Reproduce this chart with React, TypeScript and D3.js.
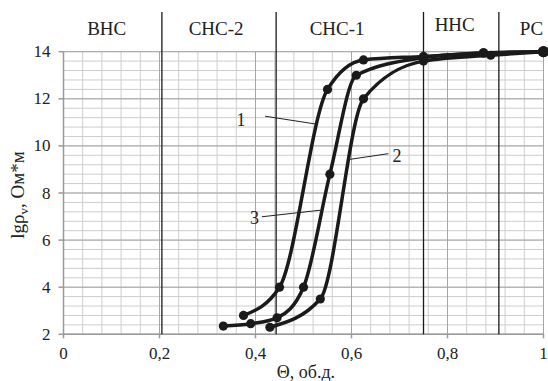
import * as d3 from "d3";

// curve 1
const theta1 = [0.375, 0.45, 0.55, 0.625, 0.75, 0.875, 1];
const rho1 = [2.8, 4.0, 12.4, 13.65, 13.8, 13.95, 14];
// curve 2
const theta2 = [0.43, 0.535, 0.625, 0.75, 0.89, 1];
const rho2 = [2.3, 3.5, 12.0, 13.6, 13.85, 14];
// curve 3
const theta3 = [0.333, 0.39, 0.445, 0.5, 0.555, 0.61, 0.75, 0.875, 1];
const rho3 = [2.35, 2.45, 2.7, 4.0, 8.8, 13.0, 13.75, 13.95, 14];

const xTicks = [0, 0.2, 0.4, 0.6, 0.8, 1];
const yTicks = [2, 4, 6, 8, 10, 12, 14];

const zoneBounds = [0.205, 0.443, 0.75, 0.907];
const zoneNames = ["ВНС", "СНС-2", "СНС-1", "ННС", "РС"];
const zoneCenters = [0.09, 0.318, 0.57, 0.815, 0.975];

// curve labels: [label, textX, textY, lineX1, lineY1, lineX2, lineY2]
const curveLabels: [string, number, number, number, number, number, number][] = [
  ["1", 0.37, 11.1, 0.42, 11.26, 0.525, 10.93],
  ["2", 0.695, 9.55, 0.677, 9.67, 0.594, 9.42],
  ["3", 0.398, 6.95, 0.413, 6.99, 0.535, 7.27],
];

const W = 548;
const H = 381;
const margin = { top: 51.7, right: 4.5, bottom: 46.7, left: 63.5 };

export default function App() {
  const x = d3.scaleLinear([0, 1], [margin.left, W - margin.right]);
  const y = d3.scaleLinear([2, 14], [H - margin.bottom, margin.top]);

  const minorX = d3.range(0, 1.0001, 0.04);
  const minorY = d3.range(2, 14.0001, 0.4);

  const line = d3
    .line<[number, number]>()
    .curve(d3.curveMonotoneX)
    .x((d) => x(d[0]))
    .y((d) => y(d[1]));

  const series = [
    d3.zip(theta1, rho1) as [number, number][],
    d3.zip(theta2, rho2) as [number, number][],
    d3.zip(theta3, rho3) as [number, number][],
  ];

  const font = "Liberation Serif, Tinos, Times New Roman, DejaVu Serif, serif";

  return (
    <svg
      width={W}
      height={H}
      style={{ position: "absolute", left: 0, top: 0, background: "#fff", fontFamily: font }}
    >
      <rect width={W} height={H} fill="#fff" />
      {/* minor grid */}
      {minorX.map((v, i) => (
        <line key={"mx" + i} x1={x(v)} x2={x(v)} y1={y(2)} y2={y(14)} stroke="#cdcdcd" strokeWidth={1} />
      ))}
      {minorY.map((v, i) => (
        <line key={"my" + i} x1={x(0)} x2={x(1)} y1={y(v)} y2={y(v)} stroke="#cdcdcd" strokeWidth={1} />
      ))}
      {/* major grid */}
      {xTicks.map((v) => (
        <line key={"Mx" + v} x1={x(v)} x2={x(v)} y1={y(2)} y2={y(14)} stroke="#a6a6a6" strokeWidth={1} />
      ))}
      {yTicks.map((v) => (
        <line key={"My" + v} x1={x(0)} x2={x(1)} y1={y(v)} y2={y(v)} stroke="#a6a6a6" strokeWidth={1} />
      ))}
      {/* axes */}
      <line x1={x(0)} x2={x(0)} y1={y(2)} y2={y(14)} stroke="#999" strokeWidth={1.5} />
      <line x1={x(0)} x2={x(1)} y1={y(2)} y2={y(2)} stroke="#999" strokeWidth={1.5} />
      {yTicks.map((v) => (
        <g key={"yt" + v}>
          <line x1={x(0) - 5} x2={x(0)} y1={y(v)} y2={y(v)} stroke="#999" strokeWidth={1.5} />
          <text x={x(0) - 13} y={y(v)} textAnchor="end" dominantBaseline="central" fontSize={17} fill="#222">
            {v}
          </text>
        </g>
      ))}
      {xTicks.map((v) => (
        <g key={"xt" + v}>
          <line x1={x(v)} x2={x(v)} y1={y(2)} y2={y(2) + 4} stroke="#999" strokeWidth={1.5} />
          <text x={x(v)} y={y(2) + 25} textAnchor="middle" fontSize={17} fill="#222">
            {String(v).replace(".", ",")}
          </text>
        </g>
      ))}
      {/* zone boundaries */}
      {zoneBounds.map((v) => (
        <line key={"z" + v} x1={x(v)} x2={x(v)} y1={12} y2={y(2)} stroke="#1a1a1a" strokeWidth={1.3} />
      ))}
      {zoneNames.map((n, i) => (
        <text key={n} x={x(zoneCenters[i])} y={i === 3 ? 31 : 35} textAnchor="middle" fontSize={19} fill="#222">
          {n}
        </text>
      ))}
      {/* curves */}
      {series.map((s, i) => (
        <path key={"c" + i} d={line(s) ?? ""} fill="none" stroke="#1a1a1a" strokeWidth={3.5} />
      ))}
      {series.map((s, i) =>
        s.map((d, j) => (
          <circle key={"p" + i + "-" + j} cx={x(d[0])} cy={y(d[1])} r={d[0] === 1 ? 5.5 : 4.6} fill="#1a1a1a" />
        ))
      )}
      {/* labels with leaders */}
      {curveLabels.map(([t, tx, ty, x1, y1, x2, y2]) => (
        <g key={"l" + t}>
          <line x1={x(x1)} y1={y(y1)} x2={x(x2)} y2={y(y2)} stroke="#222" strokeWidth={1} />
          <text x={x(tx)} y={y(ty)} textAnchor="middle" dominantBaseline="central" fontSize={18} fill="#222">
            {t}
          </text>
        </g>
      ))}
      {/* axis titles */}
      <text x={x(0.505)} y={378} textAnchor="middle" fontSize={18} fill="#222">
        Θ, об.д.
      </text>
      <text transform={`translate(24, ${y(8) + 2}) rotate(-90)`} textAnchor="middle" fontSize={19} fill="#222">
        lgρ<tspan fontSize={13} dy={4}>v</tspan>
        <tspan dy={-4}>, Ом*м</tspan>
      </text>
    </svg>
  );
}
